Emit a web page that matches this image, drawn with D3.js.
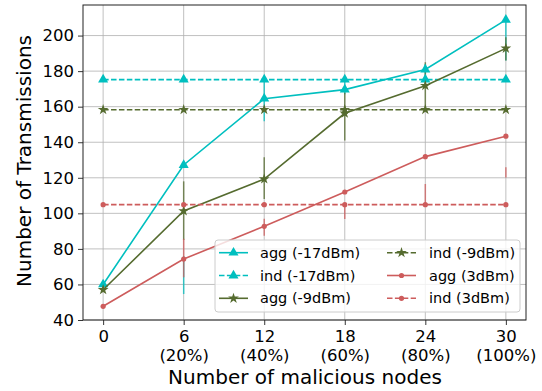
<!DOCTYPE html>
<html><head><meta charset="utf-8">
<script src="https://cdn.jsdelivr.net/npm/d3@7"></script>
<style>body{margin:0;background:#fff}svg{display:block}text{font-family:"DejaVu Sans",sans-serif;fill:#000}</style>
</head><body><svg id="c" width="542" height="391"></svg>
<script>
const xs = [0, 6, 12, 18, 24, 30];
const xPct = ["", "(20%)", "(40%)", "(60%)", "(80%)", "(100%)"];
const yTicks = [40, 60, 80, 100, 120, 140, 160, 180, 200];
const aggM17 = [60, 127.2, 164.5, 169.6, 180.9, 208.8];
const indM17 = [175.2, 175.2, 175.2, 175.2, 175.2, 175.2];
const aggM9 = [57, 101.3, 119.3, 156.3, 171.8, 192.8];
const indM9 = [158.3, 158.3, 158.3, 158.3, 158.3, 158.3];
const agg3 = [47.7, 74.3, 92.7, 112, 131.9, 143.4];
const ind3 = [104.9, 104.9, 104.9, 104.9, 104.9, 104.9];
// error bar ranges [x, lo, hi]
const errCyan = [[6, 54.6, 76], [12, 151.8, 175.2], [18, 167, 176], [24, 174, 184], [30, 186, 210]];
const errGreen = [[6, 85, 118], [12, 108.1, 131.5], [18, 141, 168], [24, 158, 185], [30, 186, 199]];
const errRed = [[6, 64, 85.7], [12, 87.4, 97], [18, 96.8, 104.9], [24, 104.9, 116.5], [30, 120.2, 125.9]];

const C = "#00bfbf", G = "#556b2f", R = "#cd5c5c";
const series = [
  {name: "agg (-17dBm)", v: aggM17, c: C, dash: null, m: "tri"},
  {name: "ind (-17dBm)", v: indM17, c: C, dash: "5.5,2.4", m: "tri"},
  {name: "agg (-9dBm)", v: aggM9, c: G, dash: null, m: "star"},
  {name: "ind (-9dBm)", v: indM9, c: G, dash: "5.5,2.4", m: "star"},
  {name: "agg (3dBm)", v: agg3, c: R, dash: null, m: "dot"},
  {name: "ind (3dBm)", v: ind3, c: R, dash: "5.5,2.4", m: "dot"}
];
const errs = [{d: errCyan, c: C}, {d: errGreen, c: G}, {d: errRed, c: R}];

const L = 83, Rr = 526, T = 5, B = 320;
const svg = d3.select("#c");
const x = d3.scaleLinear().domain([-1.5, 31.5]).range([L, Rr]);
const y = d3.scaleLinear().domain([40, 217.2]).range([B, T]);

// grid
const g = svg.append("g");
g.selectAll(".gx").data(xs).join("line").attr("x1", d => x(d)).attr("x2", d => x(d))
  .attr("y1", T).attr("y2", B).attr("stroke", "#b0b0b0").attr("stroke-width", 0.8);
g.selectAll(".gy").data(yTicks).join("line").attr("y1", d => y(d)).attr("y2", d => y(d))
  .attr("x1", L).attr("x2", Rr).attr("stroke", "#b0b0b0").attr("stroke-width", 0.8);

// axes
const ya = svg.append("g").attr("transform", `translate(${L},0)`)
  .call(d3.axisLeft(y).tickValues(yTicks).tickSize(5).tickPadding(4));
ya.selectAll("text").attr("font-size", 16.5).attr("font-family", "DejaVu Sans");
const xa = svg.append("g").attr("transform", `translate(0,${B})`)
  .call(d3.axisBottom(x).tickValues(xs).tickSize(5).tickPadding(5).tickFormat(d => d));
xa.selectAll("text").attr("font-size", 16.5).attr("font-family", "DejaVu Sans");
xa.selectAll(".tick").append("text").attr("y", 41).attr("text-anchor", "middle")
  .attr("font-size", 16.5).attr("fill", "#000").text((d, i) => xPct[i]);
svg.selectAll(".domain").remove();
svg.selectAll(".tick line").attr("stroke", "#000").attr("stroke-width", 0.8);

// error bars
errs.forEach(e => {
  svg.append("g").selectAll("line").data(e.d).join("line")
    .attr("x1", d => x(d[0])).attr("x2", d => x(d[0]))
    .attr("y1", d => y(d[1])).attr("y2", d => y(d[2]))
    .attr("stroke", e.c).attr("stroke-width", 1.5).attr("opacity", 0.75);
});

function marker(sel, m, c) {
  if (m === "tri") sel.append("path").attr("d", d3.symbol(d3.symbolTriangle, 44)()).attr("fill", c);
  else if (m === "star") sel.append("path").attr("d", d3.symbol(d3.symbolStar, 36)()).attr("fill", c);
  else sel.append("circle").attr("r", 2.6).attr("fill", c);
}

const line = d3.line().x((d, i) => x(xs[i])).y(d => y(d));
series.forEach(s => {
  svg.append("path").datum(s.v).attr("d", line).attr("fill", "none")
    .attr("stroke", s.c).attr("stroke-width", 1.6).attr("stroke-dasharray", s.dash);
  s.v.forEach((v, i) => {
    const mg = svg.append("g").attr("transform", `translate(${x(xs[i])},${y(v)})`);
    marker(mg, s.m, s.c);
  });
});

// frame
svg.append("rect").attr("x", L).attr("y", T).attr("width", Rr - L).attr("height", B - T)
  .attr("fill", "none").attr("stroke", "#222").attr("stroke-width", 1);

// legend
const lg = svg.append("g");
lg.append("rect").attr("x", 215).attr("y", 240).attr("width", 305).attr("height", 72)
  .attr("rx", 3).attr("fill", "#fff").attr("fill-opacity", 0.8).attr("stroke", "#ccc").attr("stroke-width", 1);
const cols = [{hx: 219, tx: 260}, {hx: 387, tx: 429}];
const rowsY = [252.7, 275.5, 298.3];
series.forEach((s, i) => {
  const col = cols[Math.floor(i / 3)], ry = rowsY[i % 3];
  lg.append("line").attr("x1", col.hx).attr("x2", col.hx + 29).attr("y1", ry).attr("y2", ry)
    .attr("stroke", s.c).attr("stroke-width", 1.6).attr("stroke-dasharray", s.dash);
  const mg = lg.append("g").attr("transform", `translate(${col.hx + 14.5},${ry})`);
  marker(mg, s.m, s.c);
  lg.append("text").attr("x", col.tx).attr("y", ry + 5).attr("font-size", 14.5).text(s.name);
});

// axis labels
svg.append("text").attr("x", 305).attr("y", 384).attr("text-anchor", "middle").attr("font-size", 20)
  .text("Number of malicious nodes");
svg.append("text").attr("transform", "translate(31,161) rotate(-90)").attr("text-anchor", "middle")
  .attr("font-size", 20).text("Number of Transmissions");
</script></body></html>
